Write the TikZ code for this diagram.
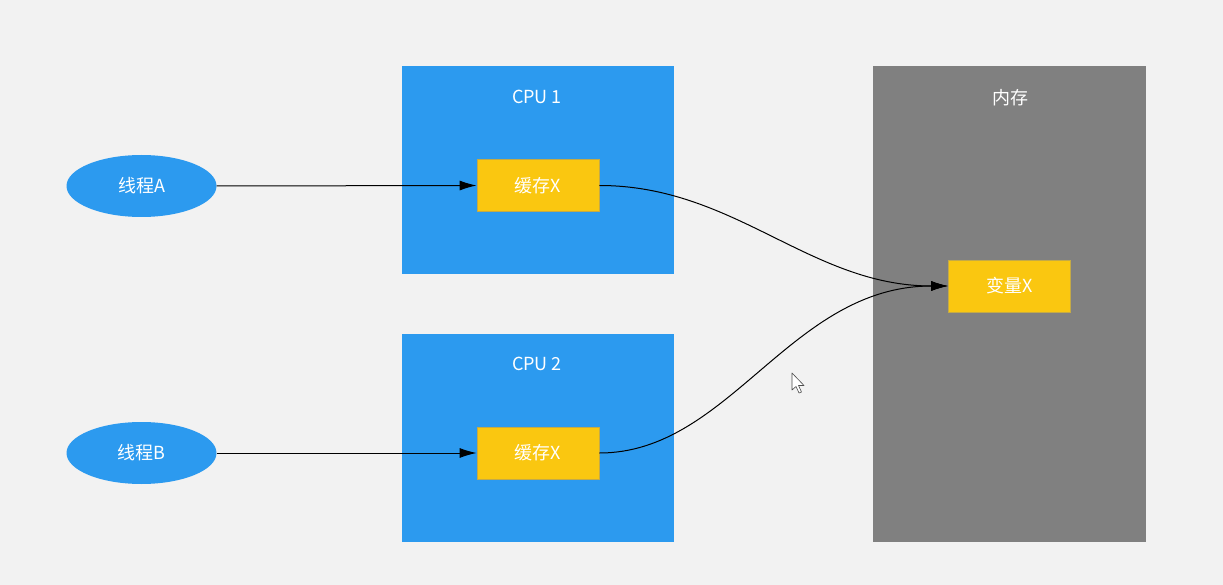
\documentclass[tikz,border=0pt]{standalone}
\usepackage{fontspec}
\setmainfont{Noto Sans CJK SC}
\usetikzlibrary{shapes.geometric,arrows.meta}
\definecolor{bg}{RGB}{242,242,242}
\definecolor{cpublue}{RGB}{44,154,239}
\definecolor{memgrey}{RGB}{128,128,128}
\definecolor{cacheyellow}{RGB}{250,199,16}
\definecolor{cacheedge}{RGB}{196,170,70}
\tikzset{
  lbl/.style={text=white,font=\fontsize{18}{21}\selectfont},
  thread/.style={ellipse,fill=cpublue,minimum width=150pt,minimum height=62pt,inner sep=0pt,lbl},
  cpubox/.style={fill=cpublue,minimum width=272pt,minimum height=208pt,inner sep=0pt},
  membox/.style={fill=memgrey,minimum width=273pt,minimum height=476pt,inner sep=0pt},
  cachebox/.style={fill=cacheyellow,draw=cacheedge,line width=0.8pt,minimum width=122pt,minimum height=52pt,inner sep=0pt,lbl},
  conn/.style={draw=black,line width=1pt,-{Latex[length=17pt,width=10pt]}},
}
\begin{document}
\begin{tikzpicture}[x=1pt,y=-1pt]
\fill[bg] (0,0) rectangle (1223,585);
\useasboundingbox (0,0) rectangle (1223,585);
\node[cpubox] (cpu1) at (538,170) {};
\node[cpubox] (cpu2) at (538,437.5) {};
\node[membox] (mem) at (1009.5,304) {};
\node[lbl] (cpu1t) at (537,97) {CPU 1};
\node[lbl] (cpu2t) at (537,364) {CPU 2};
\node[lbl] (memt) at (1010,98) {内存};
\node[thread] (ta) at (141.5,186) {线程A};
\node[thread] (tb) at (141.5,453) {线程B};
\node[cachebox] (c1) at (538,185.5) {缓存X};
\node[cachebox] (c2) at (538,453) {缓存X};
\node[cachebox] (vx) at (1009.5,286) {变量X};
\draw[conn] (ta.east) -- (c1.west);
\draw[conn] (tb.east) -- (c2.west);
\draw[conn] (c1.east) .. controls (735,185.5) and (810,286) .. (vx.west);
\draw[conn] (c2.east) .. controls (730,453) and (790,286) .. (vx.west);
% mouse cursor
\draw[fill=white,draw=black!70,line width=0.6pt,line join=round]
  (792,373) -- (792,390) -- (796,386.5) -- (799,393) -- (801.5,392) -- (798.5,385.5) -- (804,385.5) -- cycle;
\end{tikzpicture}
\end{document}
